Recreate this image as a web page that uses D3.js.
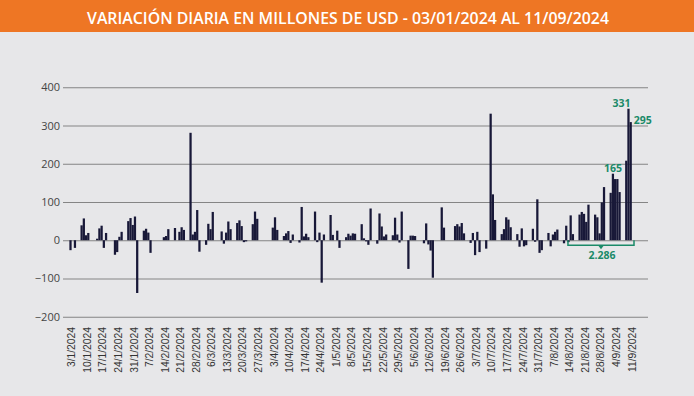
<!DOCTYPE html>
<html lang="es">
<head>
    <meta charset="UTF-8">
    <title>Variación diaria</title>
    <script src="https://d3js.org/d3.v7.min.js"></script>
    <style>
        body {
            margin: 0;
            background-color: #e7e7e9;
        }
        svg { display: block; }
    </style>
</head>
<body>
    <svg id="chart" width="694" height="396"></svg>
    <script>
        // daily values, one row per week (Mon..Fri), starting week of 1/1/2024; null = no data
        const weekValues = [
            [null, null, -26, null, -20],
            [39, 57, 13, 19, null],
            [4, 31, 38, -20, 19],
            [null, -38, -31, 9, 22],
            [50, 58, 40, 62, -138],
            [25, 30, 20, -33, null],
            [null, null, 8, 11, 29],
            [32, null, 22, 34, 27],
            [281, 15, 22, 79, -30],
            [-12, 43, 29, 74, null],
            [23, -9, 20, 49, 29],
            [45, 52, 37, -5, -3],
            [42, 75, 56, null, null],
            [null, null, 33, 60, 27],
            [11, 18, 24, -7, 15],
            [-6, 87, 10, 17, 8],
            [75, -5, 20, -111, 15],
            [66, 14, null, 25, -20],
            [8, 17, 12, 18, 17],
            [42, 5, -3, -12, 83],
            [-9, 70, 36, 10, 15],
            [13, 59, 15, -6, 75],
            [-75, 12, 12, 11, null],
            [-8, 44, -11, -27, -98],
            [null, 86, 33, null, null],
            [37, 42, 36, 45, 18],
            [-7, 19, -39, 22, -31],
            [-22, null, 331, 120, 53],
            [16, 29, 60, 54, 34],
            [16, -17, 31, -16, -13],
            [30, -4, 107, -33, -26],
            [19, -16, 15, 22, 28],
            [-8, 38, -5, 65, 16],
            [67, 74, 69, 48, 93],
            [67, 60, 18, 99, 139],
            [124, 174, 160, 160, 126],
            [208, 344, 309]
        ];
        const yTicks = [-200, -100, 0, 100, 200, 300, 400];
        const title = 'VARIACIÓN DIARIA EN MILLONES DE USD - 03/01/2024 AL 11/09/2024';
        const startDate = new Date(2024, 0, 3);
        const endDate = new Date(2024, 8, 11);
        const bracketStart = new Date(2024, 7, 14);
        const bracketLabel = '2.286';
        const valueLabels = [
            { date: new Date(2024, 8, 10), text: '331', dx: -7, dy: -2 },
            { date: new Date(2024, 8, 11), text: '295', dx: 12, dy: 1.5 },
            { date: new Date(2024, 8, 3), text: '165', dx: 0, dy: -1.5 }
        ];

        const data = [];
        weekValues.forEach((week, w) => {
            week.forEach((v, i) => {
                if (v !== null) data.push({ date: new Date(2024, 0, 1 + w * 7 + i), value: v });
            });
        });

        const svg = d3.select('#chart');
        const green = '#1b8a68';

        // header
        svg.append('rect').attr('x', 0).attr('y', 0).attr('width', 694).attr('height', 32)
            .attr('fill', '#ee7624');
        svg.append('text')
            .attr('x', 348).attr('y', 23.5)
            .attr('text-anchor', 'middle')
            .attr('textLength', 522).attr('lengthAdjust', 'spacingAndGlyphs')
            .attr('font-family', 'Open Sans, sans-serif').attr('font-weight', 600)
            .attr('font-size', 15.5).attr('fill', '#ffffff')
            .text(title);

        const x = d3.scaleTime().domain([startDate, endDate]).range([70.5, 630.7]);
        const y = d3.scaleLinear().domain([-200, 400]).range([316.7, 87.3]);

        // gridlines + y labels
        const yAxis = svg.append('g').attr('transform', 'translate(63,0)')
            .call(d3.axisLeft(y).tickValues(yTicks).tickSize(-585).tickPadding(3));
        yAxis.select('.domain').remove();
        yAxis.selectAll('.tick line').attr('stroke', '#858585').attr('stroke-width', 1.1);
        yAxis.selectAll('.tick text')
            .attr('font-family', 'Open Sans, sans-serif').attr('font-size', 11)
            .attr('fill', '#444');

        // x labels (weekly, Wednesdays)
        const xTicks = d3.timeWednesday.range(startDate, d3.timeDay.offset(endDate, 1));
        const fmt = d3.timeFormat('%-d/%-m/%Y');
        svg.append('g').selectAll('text')
            .data(xTicks)
            .join('text')
            .attr('transform', d => `translate(${x(d) + 1.2},327) rotate(-90)`)
            .attr('text-anchor', 'end')
            .attr('dy', '0.35em')
            .attr('font-family', 'Liberation Sans, Arial, sans-serif')
            .attr('font-size', 10.3)
            .attr('fill', '#333')
            .text(fmt);

        // bars
        const bw = 2.25;
        svg.append('g').selectAll('rect')
            .data(data)
            .join('rect')
            .attr('x', d => x(d.date) - bw / 2)
            .attr('width', bw)
            .attr('y', d => y(Math.max(0, d.value)))
            .attr('height', d => Math.abs(y(d.value) - y(0)))
            .attr('fill', '#181838');

        // value labels
        const valueOf = dt => data.find(d => +d.date === +dt).value;
        svg.append('g').selectAll('text')
            .data(valueLabels)
            .join('text')
            .attr('x', d => x(d.date) + d.dx)
            .attr('y', d => y(valueOf(d.date)) + d.dy)
            .attr('text-anchor', 'middle')
            .attr('font-family', 'Open Sans, sans-serif').attr('font-weight', 700)
            .attr('font-size', 10.5).attr('fill', green)
            .text(d => d.text);

        // bracket with total
        const bx0 = x(bracketStart) - 0.5, bx1 = x(endDate) + 3.3, by = y(0) + 5;
        const bmid = (bx0 + bx1) / 2;
        svg.append('path')
            .attr('d', `M${bx0},${y(0)}V${by}H${bx1}V${y(0)}`)
            .attr('fill', 'none').attr('stroke', green).attr('stroke-width', 1.5);
        svg.append('path')
            .attr('d', `M${bmid - 3},${by}L${bmid + 3},${by}L${bmid},${by + 4}Z`)
            .attr('fill', green);
        svg.append('text')
            .attr('x', bmid + 1).attr('y', by + 14)
            .attr('text-anchor', 'middle')
            .attr('font-family', 'Open Sans, sans-serif').attr('font-weight', 700)
            .attr('font-size', 10.5).attr('fill', green)
            .text(bracketLabel);
    </script>
</body>
</html>
